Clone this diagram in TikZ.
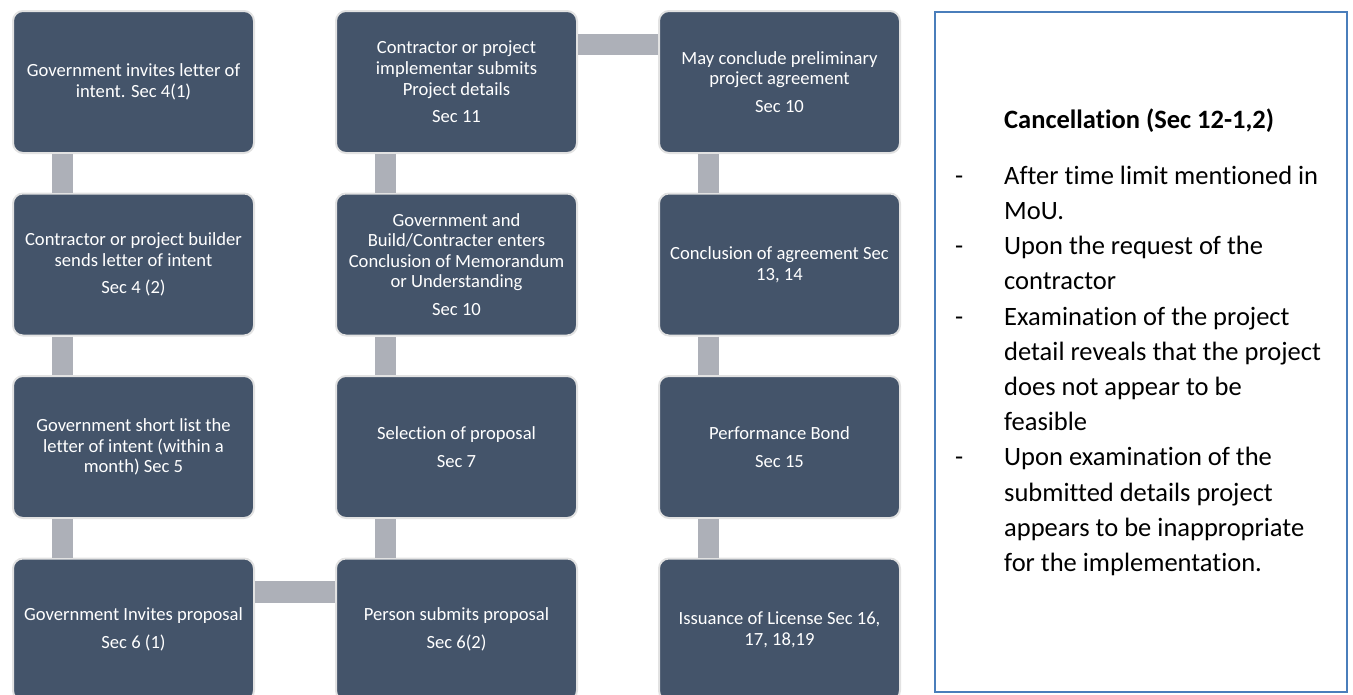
\documentclass[tikz,border=0pt]{standalone}
\usepackage{fontspec}
\setmainfont{Carlito}[Ligatures=NoCommon]
\usetikzlibrary{positioning}
\definecolor{Slate}{HTML}{44546A}
\definecolor{Rim}{HTML}{E2E2E2}
\definecolor{Link}{HTML}{ADB0B8}
\definecolor{Frame}{HTML}{4A7EBB}

\begin{document}
\begin{tikzpicture}[x=1pt,y=-1pt,
  stepbox/.style={draw=Rim,line width=2pt,fill=Slate,rounded corners=10pt,
    minimum width=241pt,minimum height=142pt,text width=236pt,inner sep=0pt,
    align=flush center,text=white,font=\fontsize{18.6}{20.6}\selectfont},
  link/.style={Link,line width=21.5pt},
  listline/.style={anchor=base west,inner sep=0pt,font=\fontsize{26.5}{30}\selectfont},
  hyphen/.style={anchor=base west,inner sep=0pt,font=\fontsize{26.5}{30}\selectfont},
  node distance=38.5pt and 80pt]
\useasboundingbox (0,0) rectangle (1353,694);

% first column
\node[stepbox,anchor=north west] (letterinv) at (12,10)
  {Government invites letter of\\ intent. Sec 4(1)};
\node[stepbox,below=of letterinv] (letterint)
  {Contractor or project builder\\ sends letter of intent\\[7pt] Sec 4 (2)};
\node[stepbox,below=of letterint] (shortlist)
  {Government short list the\\ letter of intent (within a\\ month) Sec 5};
\node[stepbox,below=of shortlist] (invprop)
  {Government Invites proposal\\[7pt] Sec 6 (1)};

% second column
\node[stepbox,right=of letterinv] (details)
  {Contractor or project\\ implementar submits\\ Project details\\[7pt] Sec 11};
\node[stepbox,below=of details] (mou)
  {Government and\\ Build/Contracter enters\\ Conclusion of Memorandum\\ or Understanding\\[7pt] Sec 10};
\node[stepbox,below=of mou] (selection)
  {Selection of proposal\\[7pt] Sec 7};
\node[stepbox,below=of selection] (submits)
  {Person submits proposal\\[7pt] Sec 6(2)};

% third column
\node[stepbox,right=of details] (prelim)
  {May conclude preliminary\\ project agreement\\[7pt] Sec 10};
\node[stepbox,below=of prelim] (agreement)
  {Conclusion of agreement Sec\\ 13, 14};
\node[stepbox,below=of agreement] (bond)
  {Performance Bond\\[7pt] Sec 15};
\node[stepbox,below=of bond] (license)
  {Issuance of License Sec 16,\\ 17, 18,19};

% connectors
\draw[link] ([xshift=-71pt]letterinv.south) -- ([xshift=-71pt]letterint.north);
\draw[link] ([xshift=-71pt]letterint.south) -- ([xshift=-71pt]shortlist.north);
\draw[link] ([xshift=-71pt]shortlist.south) -- ([xshift=-71pt]invprop.north);
\draw[link] ([yshift=37.5pt]invprop.east) -- ([yshift=37.5pt]submits.west);
\draw[link] ([xshift=-71pt]submits.north) -- ([xshift=-71pt]selection.south);
\draw[link] ([xshift=-71pt]selection.north) -- ([xshift=-71pt]mou.south);
\draw[link] ([xshift=-71pt]mou.north) -- ([xshift=-71pt]details.south);
\draw[link] ([yshift=37.5pt]details.east) -- ([yshift=37.5pt]prelim.west);
\draw[link] ([xshift=-71pt]prelim.south) -- ([xshift=-71pt]agreement.north);
\draw[link] ([xshift=-71pt]agreement.south) -- ([xshift=-71pt]bond.north);
\draw[link] ([xshift=-71pt]bond.south) -- ([xshift=-71pt]license.north);

% cancellation panel
\node[draw=Frame,line width=2pt,minimum width=412pt,minimum height=680pt,
  inner sep=0pt,anchor=north west] (panel) at (934,11) {};
\node[listline,font=\bfseries\fontsize{26.5}{30}\selectfont] (cancel) at (1004,128)
  {Cancellation (Sec 12-1,2)};
\foreach \t [count=\i from 0] in {After time limit mentioned in, MoU.,
    Upon the request of the, contractor, Examination of the project,
    detail reveals that the project, does not appear to be, feasible,
    Upon examination of the, submitted details project,
    appears to be inappropriate, for the implementation.}
  \node[listline] (line\i) at (1004,184.3+35.2*\i) {\t};
\foreach \i in {0,2,4,8}
  \node[hyphen] (bullet\i) at (955,184.3+35.2*\i) {-};
\end{tikzpicture}
\end{document}
